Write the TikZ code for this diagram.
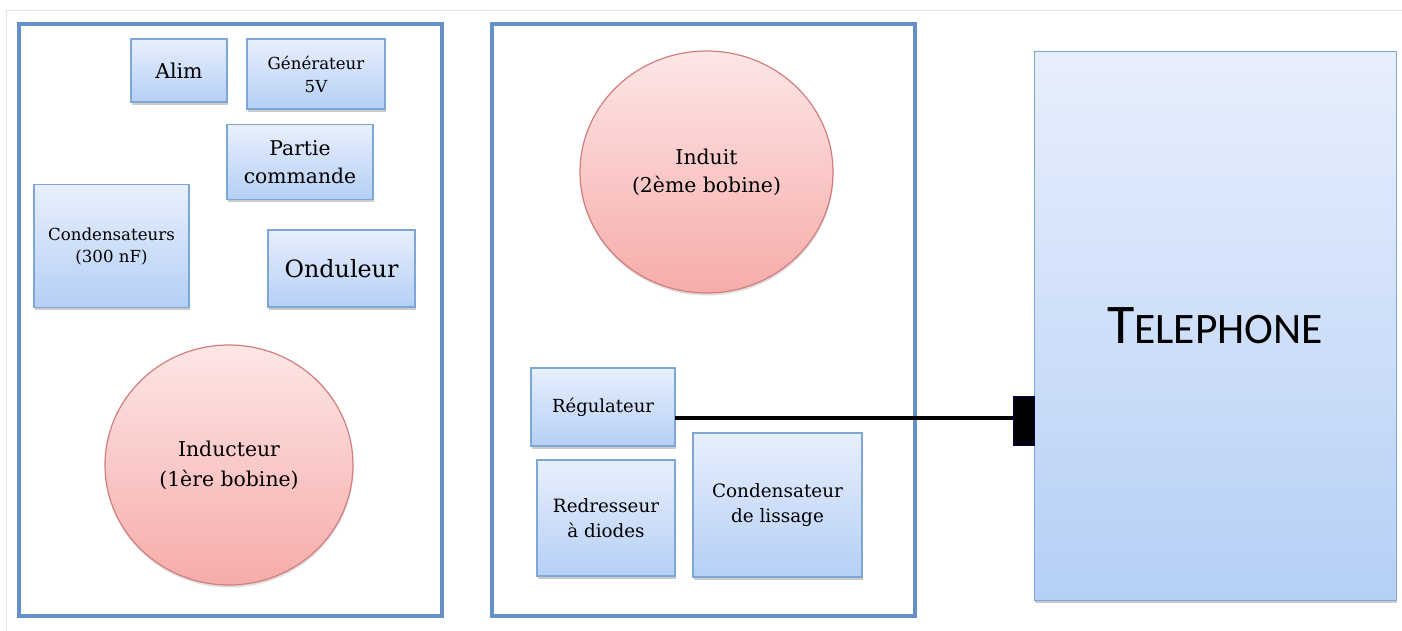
\documentclass[tikz,border=0pt]{standalone}
\usepackage{fontspec}
\setmainfont{DejaVu Serif}
\newfontfamily\telfont{Carlito}
\usetikzlibrary{shadows,calc}
\definecolor{framecol}{HTML}{6592C6}
\definecolor{boxborder}{HTML}{7EA6D6}
\definecolor{boxtop}{HTML}{E8EFFC}
\definecolor{boxbot}{HTML}{B5CFF6}
\definecolor{coiltop}{HTML}{FDE6E6}
\definecolor{coilbot}{HTML}{F6ACAA}
\definecolor{coilborder}{HTML}{D27E7C}
\definecolor{pagegray}{HTML}{E4E4E4}
\tikzset{
  panel/.style={draw=framecol, line width=4pt, rectangle, inner sep=0pt, outer sep=0pt},
  blockbox/.style={draw=boxborder, line width=1.3pt, rectangle, inner sep=0pt, outer sep=0pt,
    top color=boxtop, bottom color=boxbot, align=center,
    drop shadow={shadow xshift=1pt, shadow yshift=-2.5pt, opacity=0.35, fill=black!60}},
  coil/.style={draw=coilborder, line width=1.2pt, ellipse, inner sep=0pt, outer sep=0pt,
    top color=coiltop, bottom color=coilbot, align=center,
    drop shadow={shadow xshift=0.5pt, shadow yshift=-2.5pt, opacity=0.25, fill=black!50}},
  wire/.style={line width=4pt, black},
  plugbox/.style={fill=black, draw=black!70!blue, line width=0.8pt, rectangle, inner sep=0pt, outer sep=0pt}
}
\usetikzlibrary{shapes.geometric}
\begin{document}
\begin{tikzpicture}[x=1pt, y=-1pt]
\useasboundingbox (0,0) rectangle (1402,630);
\draw[pagegray, line width=1pt] (6,640) -- (6,10) -- (1410,10);

% panels
\node[panel, minimum width=423pt, minimum height=592pt] (left) at (230.5,320) {};
\node[panel, minimum width=423pt, minimum height=592pt] (mid) at (703.5,320) {};

% left panel blocks
\node[blockbox, minimum width=96pt, minimum height=63pt, font=\fontsize{20.5}{28}\selectfont] (alim) at (179,70.5) {Alim};
\node[blockbox, minimum width=138pt, minimum height=70pt, font=\fontsize{16.6}{23}\selectfont] (gen) at (316,74) {Générateur\\5V};
\node[blockbox, minimum width=146pt, minimum height=75pt, font=\fontsize{20.3}{28}\selectfont] (cmd) at (300,162) {Partie\\commande};
\node[blockbox, minimum width=155pt, minimum height=123pt, font=\fontsize{16.6}{22}\selectfont] (cond) at (111.5,246) {Condensateurs\\(300 nF)};
\node[blockbox, minimum width=147pt, minimum height=77pt, font=\fontsize{23.8}{30}\selectfont] (ond) at (341.5,268.5) {Onduleur};
\node[coil, minimum width=248pt, minimum height=240pt, font=\fontsize{20.4}{30}\selectfont] (inducteur) at (229,465) {Inducteur\\(1ère bobine)};

% middle panel blocks
\node[coil, minimum width=253pt, minimum height=242pt, font=\fontsize{20.4}{28}\selectfont] (induit) at (706.5,172) {Induit\\(2ème bobine)};
\node[blockbox, minimum width=144pt, minimum height=78pt, font=\fontsize{18}{24}\selectfont] (reg) at (603,407) {Régulateur};
\node[blockbox, minimum width=138pt, minimum height=116pt, font=\fontsize{18.3}{25}\selectfont] (redr) at (606,518) {Redresseur\\à diodes};
\node[blockbox, minimum width=169pt, minimum height=144pt, font=\fontsize{18.4}{25}\selectfont] (liss) at (777.5,505) {Condensateur\\de lissage};

% telephone
\node[blockbox, line width=1pt, minimum width=362pt, minimum height=549pt] (tel) at (1215,325.5)
  {\telfont\fontsize{56}{56}\selectfont T\fontsize{43.5}{43.5}\selectfont ELEPHONE};
\node[plugbox, minimum width=21pt, minimum height=49pt] (plug) at (1023.5,420.5) {};

% connector
\draw[wire] ([yshift=-11pt]reg.east) -- ([yshift=-11pt]reg.east -| plug.west);
\end{tikzpicture}
\end{document}
